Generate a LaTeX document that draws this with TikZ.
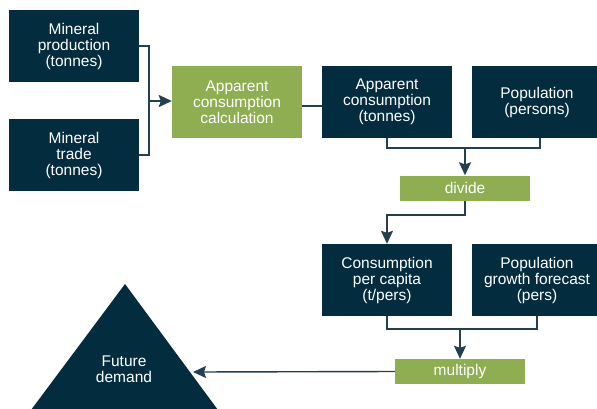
\documentclass[tikz,border=0pt]{standalone}
\usepackage{fontspec}
\setmainfont{Liberation Sans}
\usetikzlibrary{arrows.meta,calc}
\definecolor{navy}{HTML}{032D3F}
\definecolor{leaf}{HTML}{8FAE52}
\definecolor{wire}{HTML}{23404F}
\begin{document}
\begin{tikzpicture}[x=1pt,y=-1pt,
  lbl/.style={text=white,align=center,font=\fontsize{15.5}{16}\selectfont},
  box/.style={lbl,fill=navy,minimum width=130pt,minimum height=72pt,inner sep=0pt},
  gbox/.style={box,fill=leaf},
  op/.style={lbl,fill=leaf,minimum width=130pt,minimum height=25pt,inner sep=0pt},
  wire/.style={draw=wire,line width=1.4pt},
  arr/.style={wire,-{Stealth[length=13pt,width=12pt,inset=2pt]}}]
\clip (0,0) rectangle (597,408);
\fill[white] (0,0) rectangle (597,408);
\node[box] (mp) at (74,46) {Mineral\\production\\(tonnes)};
\node[box] (mt) at (74,155) {Mineral\\trade\\(tonnes)};
\node[gbox] (acc) at (237,102) {Apparent\\consumption\\calculation};
\node[box] (ac) at (387,102) {Apparent\\consumption\\(tonnes)};
\node[box] (pop) at (537,102) {Population\\(persons)};
\node[op] (div) at (465,188) {divide};
\node[box] (cpc) at (387,280) {Consumption\\per capita\\(t/pers)};
\node[box] (pgf) at (537,280) {Population\\growth forecast\\(pers)};
\node[op] (mul) at (460,371.5) {multiply};
\fill[navy] (125,284) -- (218,410) -- (31,410) -- cycle;
\node[lbl] (fd) at (124,369) {Future\\demand};
\coordinate (fdin) at (193,372);
% brackets
\coordinate (b1) at (149,46);
\coordinate (b2) at (149,155);
\coordinate (b3) at (149,101);
\draw[wire] (mp.east) -- (b1) -- (b2) -- (mt.east);
\draw[arr] (b3) -- (acc.west |- b3);
\draw[wire] ([yshift=-4pt]acc.east) -- ([yshift=-4pt]ac.west);
\coordinate (c1) at (387,148);
\coordinate (c2) at (540,148);
\coordinate (c3) at (465,148);
\draw[wire] (ac.south) -- (c1) -- (c2) -- (c2 |- pop.south);
\draw[arr] (c3) -- (div.north);
\coordinate (d1) at (465,215);
\coordinate (d2) at (387,215);
\draw[arr] (div.south) -- (d1) -- (d2) -- (cpc.north);
\coordinate (e1) at (387,329);
\coordinate (e2) at (537,329);
\coordinate (e3) at (460,329);
\draw[wire] (cpc.south) -- (e1) -- (e2) -- (pgf.south);
\draw[arr] (e3) -- (mul.north);
\draw[arr] (mul.west) -- (fdin);
\end{tikzpicture}
\end{document}
